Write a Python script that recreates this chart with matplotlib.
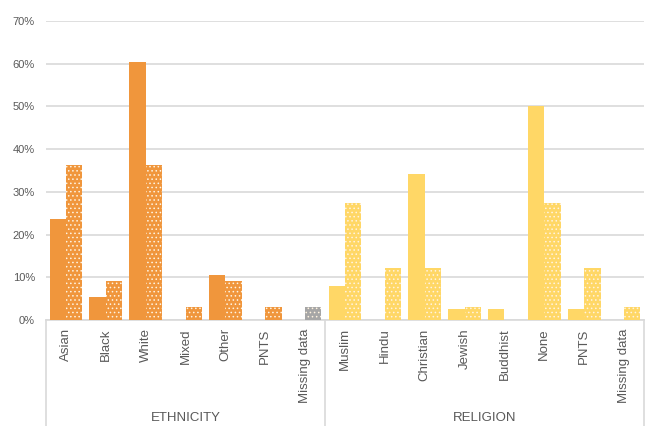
import matplotlib
matplotlib.use("Agg")
import matplotlib.pyplot as plt
import matplotlib.transforms as mtransforms
import numpy as np

plt.rcParams['font.family'] = ['Liberation Sans', 'DejaVu Sans']
plt.rcParams['hatch.linewidth'] = 0.6

# Categories
ethnicity = ["Asian", "Black", "White", "Mixed", "Other", "PNTS", "Missing data"]
religion = ["Muslim", "Hindu", "Christian", "Jewish", "Buddhist", "None", "PNTS", "Missing data"]

# Shares (fractions) for the two cohorts: solid bars and dotted bars
eth_solid = [0.237, 0.053, 0.605, 0.0, 0.105, 0.0, 0.0]
eth_dotted = [0.364, 0.091, 0.364, 0.030, 0.091, 0.030, 0.030]
rel_solid = [0.079, 0.0, 0.342, 0.026, 0.026, 0.500, 0.026, 0.0]
rel_dotted = [0.273, 0.121, 0.121, 0.030, 0.0, 0.273, 0.121, 0.030]

y_ticks = [0, 0.1, 0.2, 0.3, 0.4, 0.5, 0.6, 0.7]
group_names = ["ETHNICITY", "RELIGION"]

ORANGE = "#F0963C"
YELLOW = "#FFD766"
GREY = "#A6A6A6"
TEXT = "#595959"
GRID = "#D9D9D9"

fig = plt.figure(figsize=(6.52, 4.26), dpi=100)
ax = fig.add_axes([46 / 652, 1 - 320 / 426, 598 / 652, 299 / 426])

labels = ethnicity + religion
n_eth = len(ethnicity)
x = np.arange(len(labels))
solid = eth_solid + rel_solid
dotted = eth_dotted + rel_dotted
colors = [ORANGE] * n_eth + [YELLOW] * len(religion)
dotted_colors = list(colors)
dotted_colors[n_eth - 1] = GREY  # missing ethnicity data shown in grey

w = 0.41
ax.bar(x - w / 2, solid, width=w, color=colors, linewidth=0, zorder=3)
ax.bar(x + w / 2, dotted, width=w, color=dotted_colors, edgecolor="#FFF3E0",
       linewidth=0, hatch="....", zorder=3)

ax.set_xlim(-0.5, len(labels) - 0.5)
ax.set_ylim(0, 0.7)
ax.set_yticks(y_ticks)
ax.set_yticklabels([f"{int(round(t * 100))}%" for t in y_ticks])
ax.yaxis.grid(True, color=GRID, linewidth=1.2, zorder=0)
ax.set_axisbelow(True)

ax.set_xticks(x)
ax.set_xticklabels(labels, rotation=90, fontsize=9.5, color=TEXT)
ax.tick_params(axis="x", length=0, pad=6)
ax.tick_params(axis="y", length=0, pad=8, labelsize=8, labelcolor=TEXT)

for s in ["top", "right", "left"]:
    ax.spines[s].set_visible(False)
ax.spines["bottom"].set_color(GRID)
ax.spines["bottom"].set_linewidth(1.2)

# Group separators below the axis
trans = mtransforms.blended_transform_factory(ax.transData, ax.transAxes)
y_bottom = -106 / 299
for bx in [-0.5, n_eth - 0.5, len(labels) - 0.5]:
    ax.plot([bx, bx], [0, y_bottom], transform=trans, color=GRID,
            linewidth=1.2, clip_on=False)

label_y = -98 / 299
ax.text((n_eth - 1) / 2, label_y, group_names[0], transform=trans,
        ha="center", va="center", fontsize=9.5, color=TEXT)
ax.text((n_eth + len(labels) - 1) / 2, label_y, group_names[1], transform=trans,
        ha="center", va="center", fontsize=9.5, color=TEXT)

fig.savefig("out.png", dpi=100)
